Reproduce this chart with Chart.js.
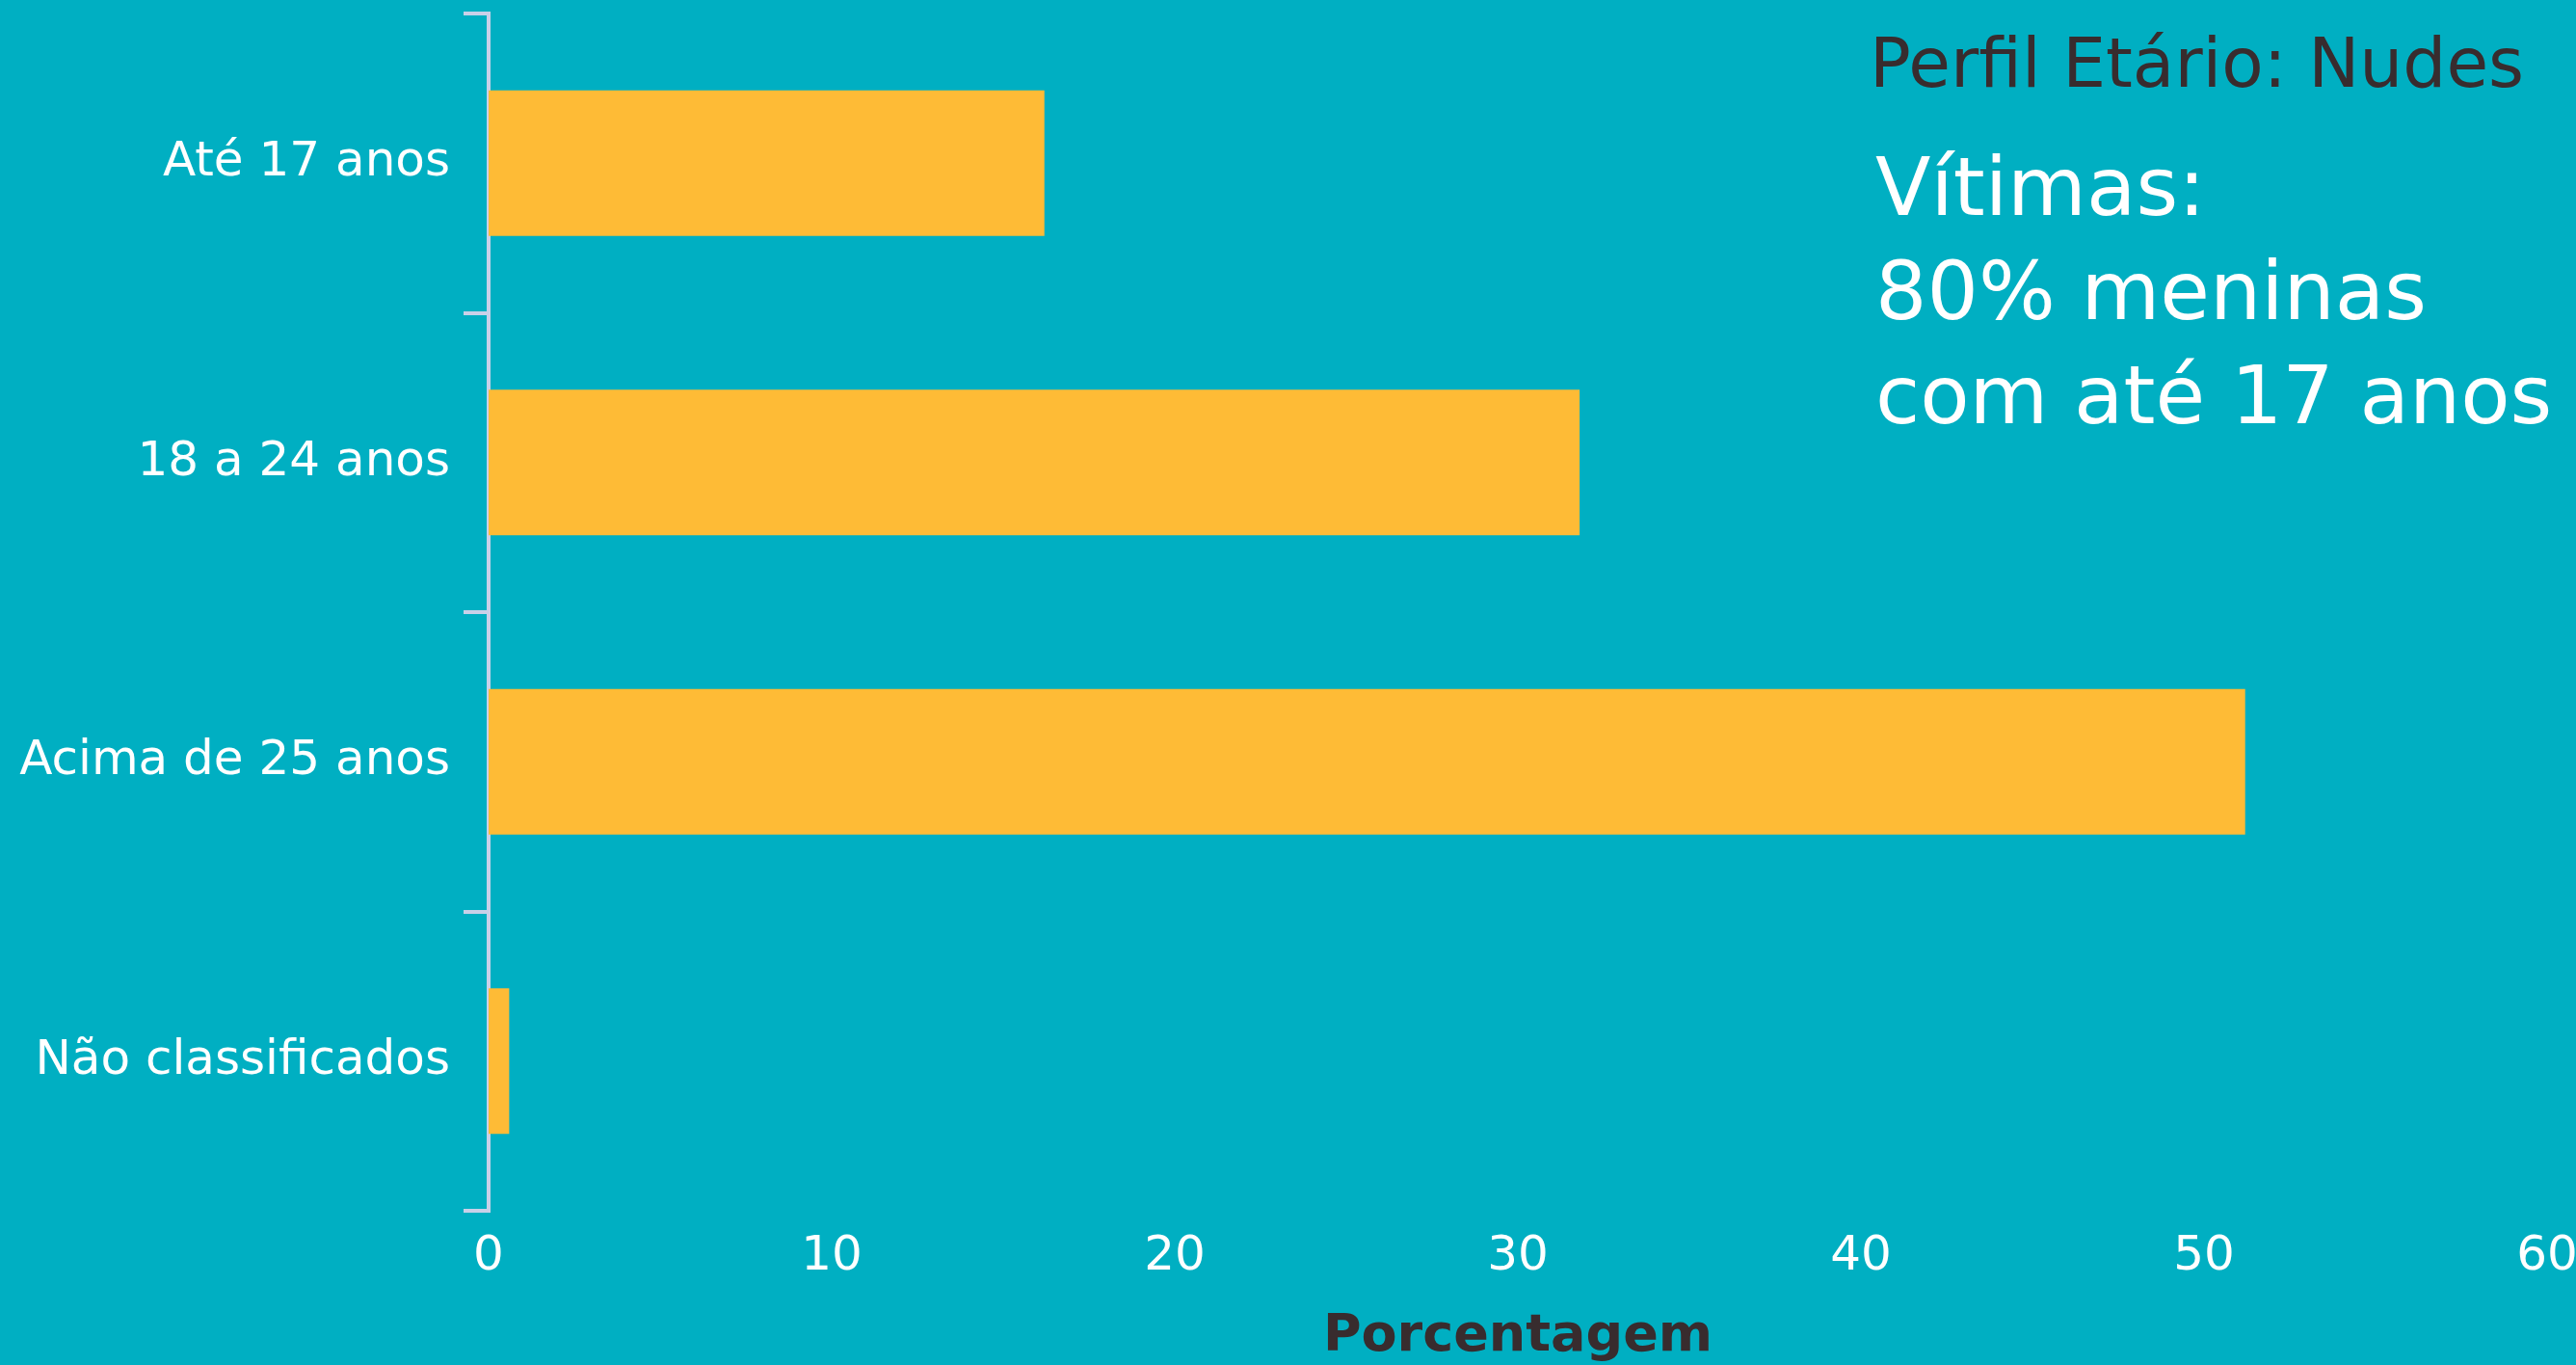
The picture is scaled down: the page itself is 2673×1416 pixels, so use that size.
<!DOCTYPE html>
<html>
<head>
<meta charset="utf-8">
<script src="https://cdn.jsdelivr.net/npm/chart.js@4/dist/chart.umd.min.js"></script>
<style>
  html, body { margin: 0; padding: 0; width: 2673px; height: 1416px; overflow: hidden; background: #00AFC2; }
  #wrap { position: relative; width: 2673px; height: 1416px; }
  canvas { position: absolute; left: 0; top: 0; }
  .txt { position: absolute; font-family: "DejaVu Sans", sans-serif; white-space: nowrap; }
  #title { left: 1940px; top: 23px; font-size: 71px; line-height: 86px; color: #382c2e; }
  #note { left: 1946px; top: 140px; font-size: 84px; line-height: 108px; color: #ffffff; }
</style>
</head>
<body>
<div id="wrap">
  <canvas id="c" width="2673" height="1416"></canvas>
  <div class="txt" id="title">Perfil Etário: Nudes</div>
  <div class="txt" id="note">Vítimas:<br>80% meninas<br>com até 17 anos</div>
</div>
<script>
const categories = ["Até 17 anos", "18 a 24 anos", "Acima de 25 anos", "Não classificados"];
const percentages = [16.2, 31.8, 51.2, 0.6];
const xTicks = [0, 10, 20, 30, 40, 50, 60];
const xAxisTitle = "Porcentagem";

const spineColor = "#C9D0E8";
const FONT = "'DejaVu Sans', sans-serif";

new Chart(document.getElementById("c"), {
  type: "bar",
  data: {
    labels: categories,
    datasets: [{
      data: percentages,
      backgroundColor: "#FEBB36",
      borderWidth: 0,
      categoryPercentage: 1.0,
      barPercentage: 0.486
    }]
  },
  options: {
    indexAxis: "y",
    responsive: false,
    animation: false,
    devicePixelRatio: 1,
    layout: { padding: { top: 14, right: 30, left: 0, bottom: 0 } },
    plugins: { legend: { display: false }, tooltip: { enabled: false } },
    scales: {
      x: {
        type: "linear",
        min: xTicks[0],
        max: xTicks[xTicks.length - 1],
        afterBuildTicks: (s) => { s.ticks = xTicks.map(v => ({ value: v })); },
        afterFit: (s) => { s.height = 160; s.paddingLeft = 0; s.paddingRight = 0; },
        grid: { display: false, drawTicks: false },
        border: { display: false },
        ticks: { color: "#ffffff", font: { family: FONT, size: 50 }, padding: 18, maxRotation: 0 },
        title: {
          display: true,
          text: xAxisTitle,
          color: "#382c2e",
          font: { family: FONT, size: 54, weight: "bold" },
          padding: { top: 0, bottom: -3 }
        }
      },
      y: {
        type: "category",
        offset: true,
        afterFit: (s) => { s.width = 507; s.paddingTop = 0; s.paddingBottom = 0; },
        grid: {
          display: true,
          offset: true,
          drawOnChartArea: false,
          drawTicks: true,
          tickLength: 26,
          color: spineColor,
          lineWidth: 4
        },
        border: { display: true, color: spineColor, width: 4 },
        ticks: { color: "#ffffff", font: { family: FONT, size: 50 }, padding: 14 }
      }
    }
  }
});
</script>
</body>
</html>
